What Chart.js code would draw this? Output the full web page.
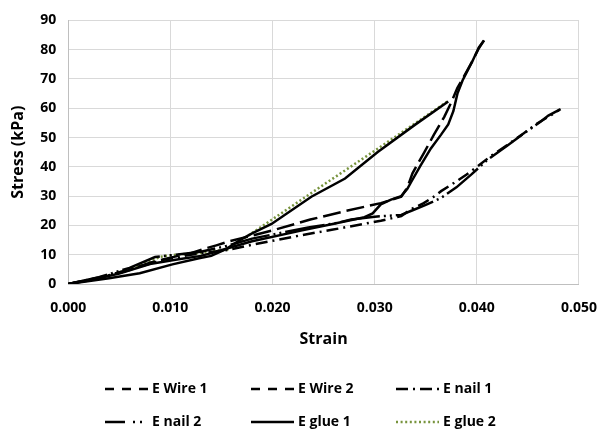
<!DOCTYPE html>
<html>
<head>
<meta charset="utf-8">
<script src="https://cdn.jsdelivr.net/npm/chart.js@4/dist/chart.umd.min.js"></script>
<style>
  body { margin: 0; background: #fff; }
  #wrap { width: 598px; height: 435px; }
</style>
</head>
<body>
<div id="wrap"><canvas id="chart"></canvas></div>
<script>
// series (strain, stress kPa)
const wire1Strain = [0, 0.002, 0.005, 0.008, 0.0105, 0.013, 0.0145, 0.0157, 0.018, 0.0229, 0.026, 0.029, 0.0298, 0.0306, 0.0316, 0.0326, 0.0332, 0.0336, 0.0345, 0.0355, 0.0365, 0.0372, 0.0377, 0.0381, 0.0386, 0.0396, 0.0402, 0.0407];
const wire1Stress = [0, 1.2, 3.6, 6.8, 8.3, 9.6, 11, 12.3, 14.6, 18.3, 20.6, 22.8, 24.1, 27.2, 28.8, 30, 32.5, 35, 40.5, 46.3, 51, 54.5, 59, 65, 69.5, 76.3, 80.8, 83.1];

const wire2Strain = [0, 0.003, 0.006, 0.008, 0.010, 0.012, 0.0131, 0.0145, 0.0157, 0.020, 0.0237, 0.027, 0.0306, 0.0326, 0.0332, 0.0337, 0.0348, 0.0358, 0.0368, 0.0375, 0.0381, 0.0386, 0.0396, 0.0402, 0.0407];
const wire2Stress = [0, 2, 4.8, 7.3, 9, 10.5, 11.8, 13.2, 14.5, 18.3, 22, 24.8, 27.6, 29.8, 33, 37.8, 44.6, 51, 57, 62, 67, 70, 76.3, 80.5, 83.2];

const nail1Strain = [0, 0.004, 0.007, 0.0095, 0.012, 0.0157, 0.018, 0.0229, 0.0258, 0.0306, 0.0326, 0.0336, 0.0348, 0.0357, 0.0365, 0.0375, 0.039, 0.040, 0.0413, 0.043, 0.0446, 0.0459, 0.0472, 0.0481];
const nail1Stress = [0, 3, 6, 8.4, 10, 11.7, 13.4, 16.7, 18.5, 21.6, 23.2, 25.6, 27.6, 29.6, 31.7, 33.9, 37.4, 40, 43.5, 47.5, 51.5, 54.8, 57.5, 59.5];

const nail2Strain = [0, 0.003, 0.006, 0.0085, 0.0105, 0.013, 0.0155, 0.018, 0.0235, 0.0261, 0.0277, 0.030, 0.0326, 0.0336, 0.035, 0.0365, 0.038, 0.0395, 0.041, 0.043, 0.0446, 0.0462, 0.047, 0.0482];
const nail2Stress = [0, 2.3, 5.5, 9.2, 10, 11, 13, 15.5, 19.3, 20.7, 22, 23, 23.6, 25, 27, 29.4, 33, 37.5, 42.3, 47.3, 51.4, 55.3, 57.5, 59.7];

const glue1Strain = [0, 0.004, 0.007, 0.0102, 0.0128, 0.014, 0.0155, 0.0168, 0.018, 0.0199, 0.0238, 0.0271, 0.0303, 0.034, 0.0372];
const glue1Stress = [0, 2, 3.7, 6.7, 8.8, 9.6, 12, 15, 17.3, 20.5, 29.8, 36, 45.1, 54.5, 62.3];

const glue2Strain = [0, 0.004, 0.007, 0.009, 0.0105, 0.013, 0.0156, 0.020, 0.025, 0.030, 0.0372];
const glue2Stress = [0, 2.8, 6.3, 9.3, 10, 10.6, 11.8, 22.1, 33.9, 45.5, 62.5];

const seriesNames = ['E Wire 1', 'E Wire 2', 'E nail 1', 'E nail 2', 'E glue 1', 'E glue 2'];

// pair up x and y for the scatter lines
function toPoints(xs, ys) {
  return xs.map((x, i) => ({ x: x, y: ys[i] }));
}

const family = '"Open Sans", sans-serif';
const tickFont = { family: family, size: 14, weight: 'bold' };
const titleFont = { family: family, size: 16, weight: 'bold' };

function lineSet(label, xs, ys, dash, legendDash, color) {
  return {
    label: label,
    data: toPoints(xs, ys),
    showLine: true,
    borderColor: color || '#000',
    backgroundColor: color || '#000',
    borderWidth: 2.5,
    borderDash: dash,
    legendDash: legendDash,
    pointRadius: 0,
    tension: 0
  };
}

// legend drawn in three fixed columns, like the original
const bottomLegend = {
  id: 'bottomLegend',
  afterDraw(chart) {
    const ctx = chart.ctx;
    const colX = [105, 251, 396];
    const rowY = [389, 422];
    chart.data.datasets.forEach((ds, i) => {
      const x = colX[i % 3];
      const y = rowY[Math.floor(i / 3)];
      ctx.save();
      ctx.strokeStyle = ds.borderColor;
      ctx.lineWidth = ds.borderWidth;
      ctx.setLineDash(ds.legendDash);
      ctx.beginPath();
      ctx.moveTo(x, y);
      ctx.lineTo(x + 43, y);
      ctx.stroke();
      ctx.setLineDash([]);
      ctx.fillStyle = '#000';
      ctx.font = 'bold 14px ' + family;
      ctx.textBaseline = 'middle';
      ctx.fillText(ds.label, x + 47, y);
      ctx.restore();
    });
  }
};

const ctx = document.getElementById('chart').getContext('2d');
new Chart(ctx, {
  type: 'scatter',
  data: {
    datasets: [
      lineSet(seriesNames[0], wire1Strain, wire1Stress, [], [9, 8]),
      lineSet(seriesNames[1], wire2Strain, wire2Stress, [18, 6], [9, 8]),
      lineSet(seriesNames[2], nail1Strain, nail1Stress, [12, 5, 2, 5], [12, 5, 2, 5]),
      lineSet(seriesNames[3], nail2Strain, nail2Stress, [40, 4, 2, 4, 2, 4], [20, 8, 2, 5, 2, 8]),
      lineSet(seriesNames[4], glue1Strain, glue1Stress, [], []),
      lineSet(seriesNames[5], glue2Strain, glue2Stress, [2, 2.4], [2, 2.6], '#77933C')
    ]
  },
  plugins: [bottomLegend],
  options: {
    animation: false,
    responsive: true,
    maintainAspectRatio: false,
    layout: { padding: { left: 7, right: 2, top: 8, bottom: 86 } },
    plugins: {
      legend: { display: false },
      tooltip: { enabled: false }
    },
    scales: {
      x: {
        type: 'linear',
        min: 0,
        max: 0.05,
        ticks: { stepSize: 0.01, callback: v => v.toFixed(3), font: tickFont, color: '#000', padding: 1 },
        // invisible tick marks give the gap below the axis
        grid: { color: '#d9d9d9', drawTicks: true, tickLength: 15, tickColor: 'rgba(0,0,0,0)' },
        border: { color: '#bfbfbf' },
        title: { display: true, text: 'Strain', font: titleFont, color: '#000', padding: { top: 12, bottom: 0 } }
      },
      y: {
        min: 0,
        max: 90,
        ticks: { stepSize: 10, font: tickFont, color: '#000', padding: 12 },
        grid: { color: '#d9d9d9', drawTicks: false },
        border: { color: '#bfbfbf' },
        title: { display: true, text: 'Stress (kPa)', font: titleFont, color: '#000', padding: { top: 2, bottom: 0 } }
      }
    }
  }
});
</script>
</body>
</html>
